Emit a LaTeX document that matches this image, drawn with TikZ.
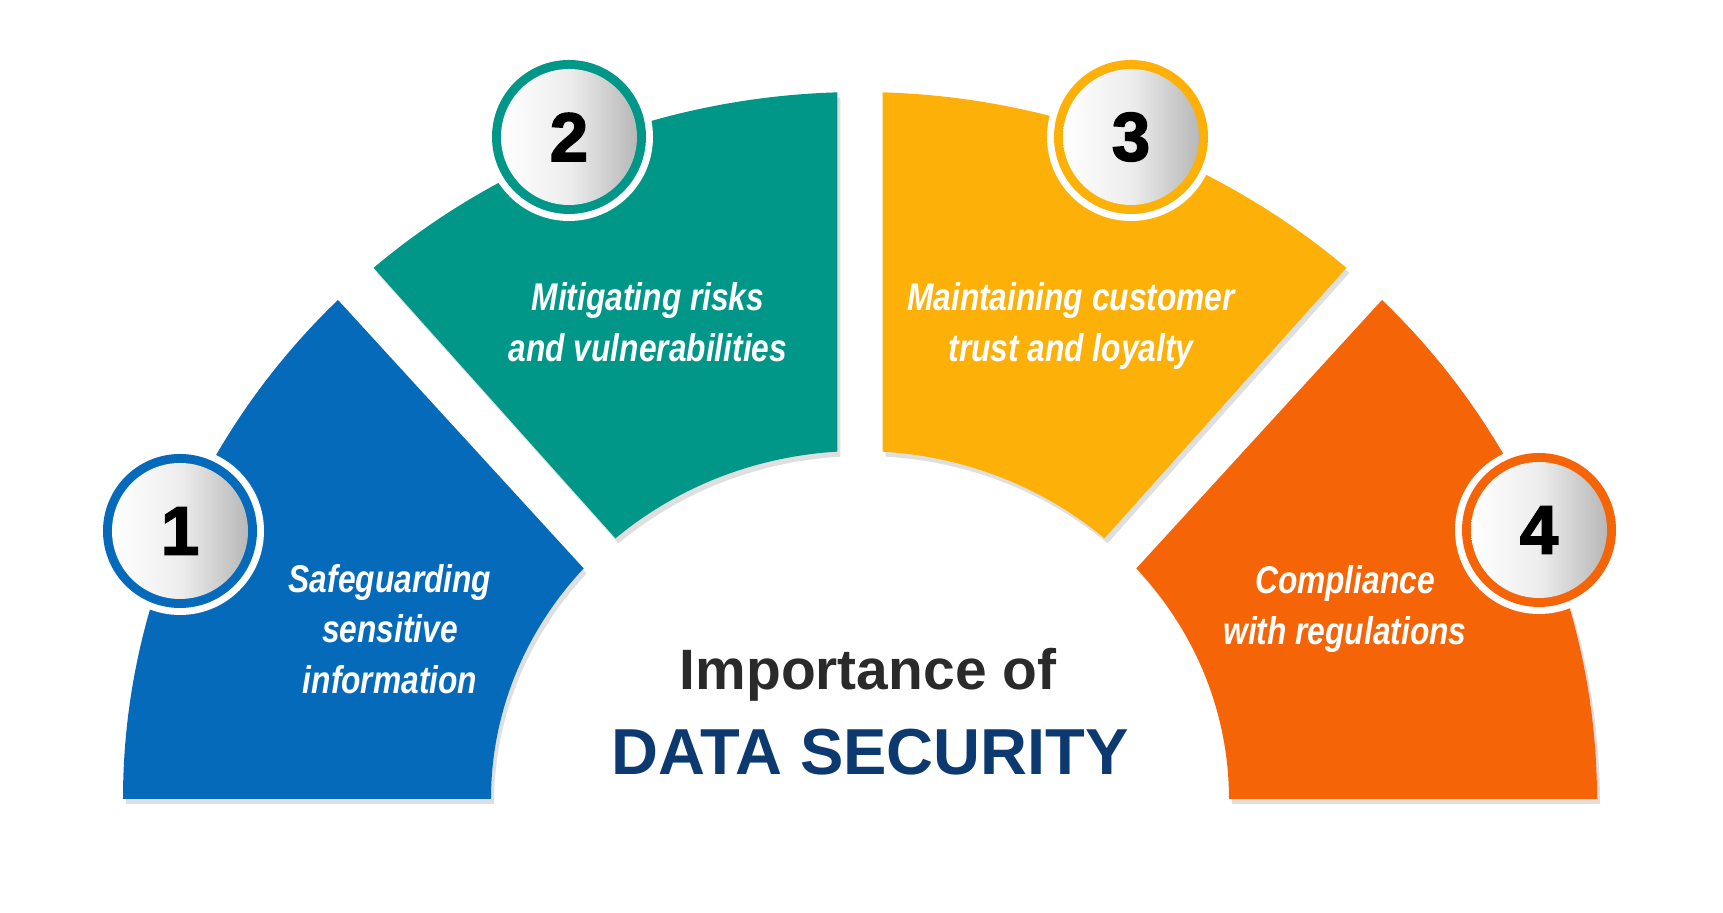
\documentclass[tikz,border=0pt]{standalone}
\usepackage{fontspec}
\setmainfont{Liberation Sans}
\newfontfamily\narrowfont{Liberation Sans}[FakeStretch=0.82]
\newfontfamily\numfont{Liberation Sans}[FakeBold=2.5]
\usetikzlibrary{shadows}

\definecolor{segblue}{RGB}{6,106,186}
\definecolor{segteal}{RGB}{0,150,136}
\definecolor{segamber}{RGB}{253,176,8}
\definecolor{segorange}{RGB}{245,100,6}
\definecolor{titlegray}{RGB}{42,42,42}
\definecolor{titlenavy}{RGB}{12,58,112}

\tikzset{
  segment/.style={fill=#1,drop shadow={shadow xshift=0.03,shadow yshift=-0.05,opacity=0.25}},
  seglabel/.style={text=white,align=center,font=\narrowfont\bfseries\itshape\fontsize{11}{14.4}\selectfont},
  numlabel/.style={text=black,font=\numfont\bfseries\fontsize{19.5}{22}\selectfont},
}

\begin{document}
\begin{tikzpicture}
  \fill[white] (-8.60,-1.14) rectangle (8.63,7.99);
  \useasboundingbox (-8.60,-1.14) rectangle (8.63,7.99);
  % the four ring segments
  \fill[segment=segblue] (180:7.37 and 7.07) arc[start angle=180,end angle=135.1,x radius=7.37,y radius=7.07]
    -- (138.5:3.69 and 3.48) arc[start angle=138.5,end angle=180,x radius=3.69,y radius=3.48] -- cycle;
  \fill[segment=segteal] (131.3:7.37 and 7.07) arc[start angle=131.3,end angle=91.75,x radius=7.37,y radius=7.07]
    -- (93.5:3.69 and 3.48) arc[start angle=93.5,end angle=131.5,x radius=3.69,y radius=3.48] -- cycle;
  \fill[segment=segamber] (88.25:7.37 and 7.07) arc[start angle=88.25,end angle=48.7,x radius=7.37,y radius=7.07]
    -- (48.5:3.69 and 3.48) arc[start angle=48.5,end angle=86.5,x radius=3.69,y radius=3.48] -- cycle;
  \fill[segment=segorange] (44.9:7.37 and 7.07) arc[start angle=44.9,end angle=0,x radius=7.37,y radius=7.07]
    -- (0:3.69 and 3.48) arc[start angle=0,end angle=41.5,x radius=3.69,y radius=3.48] -- cycle;
  % numbered badges on the outer rim
  \foreach \n/\p/\c in {1/{-6.80,2.68}/segblue,2/{-2.91,6.62}/segteal,3/{2.71,6.62}/segamber,4/{6.79,2.69}/segorange}{
    \fill[white] (\p) circle (0.84);
    \fill[\c] (\p) circle (0.77);
    \shade[left color=white,right color=black!28,middle color=white!93!black] (\p) circle (0.68);
    \node[numlabel] (num\n) at (\p) {\n};
  }
  % segment texts
  \node[seglabel] (txt1) at (-4.70,1.70) {Safeguarding\\sensitive\\information};
  \node[seglabel] (txt2) at (-2.12,4.77) {Mitigating risks\\and vulnerabilities};
  \node[seglabel] (txt3) at (2.11,4.73) {Maintaining customer\\trust and loyalty};
  \node[seglabel] (txt4) at (4.85,1.90) {Compliance\\with regulations};
  % title
  \node[anchor=base,text=titlegray,font=\bfseries\fontsize{16.2}{19}\selectfont] (title1) at (0.08,1.09) {Importance of};
  \node[anchor=base,text=titlenavy,font=\bfseries\fontsize{18.5}{22}\selectfont] (title2) at (0.10,0.24) {DATA SECURITY};
\end{tikzpicture}
\end{document}
